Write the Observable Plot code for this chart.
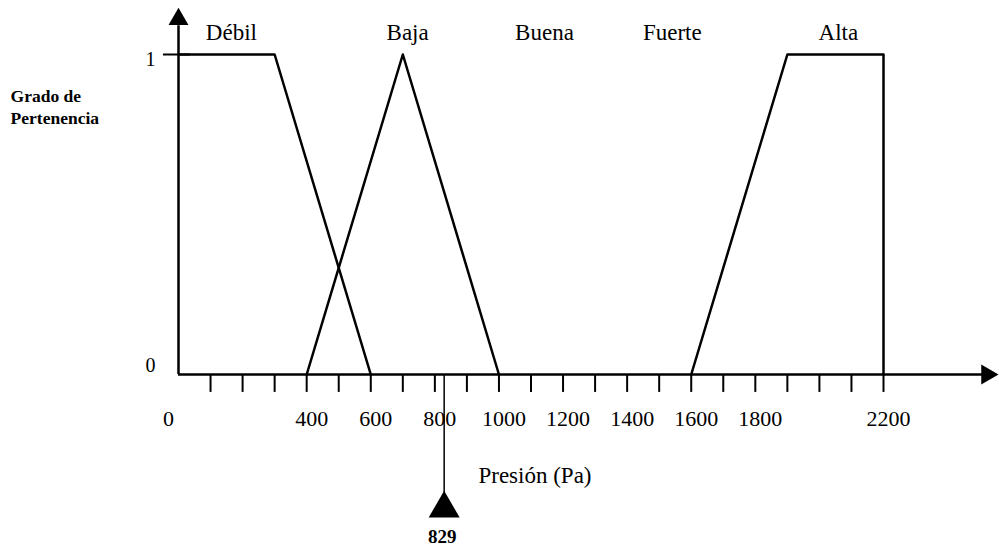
<!DOCTYPE html>
<html>
<head>
<meta charset="utf-8">
<script src="https://cdn.jsdelivr.net/npm/d3@7"></script>
<script src="https://cdn.jsdelivr.net/npm/@observablehq/plot@0.6"></script>
<style>
  html, body { margin: 0; padding: 0; background: #fff; }
  #chart svg { display: block; }
</style>
</head>
<body>
<div id="chart"></div>
<script>
// Membership functions (x = Presión in Pa, y = grado de pertenencia)
const debilX = [0, 300, 600];
const debilY = [1, 1, 0];
const bajaX = [400, 700, 1000];
const bajaY = [0, 1, 0];
const altaX = [1600, 1900, 2200, 2200];
const altaY = [0, 1, 1, 0];

// Set names and where they are written above the chart
const setNames = ["Débil", "Baja", "Buena", "Fuerte", "Alta"];
const setLabelX = [165, 715, 1142, 1541, 2059];

// Axis ticks and labels
const xTicks = [100, 200, 300, 400, 500, 600, 700, 800, 900, 1000, 1100, 1200, 1300, 1400, 1500, 1600, 1700, 1800, 1900, 2000, 2100, 2200];
const xTickLabels = [400, 600, 800, 1000, 1200, 1400, 1600, 1800, 2200];
const yTickLabels = [0, 1];

// Input value
const inputValue = 829;

const font = "'Liberation Serif', 'Times New Roman', serif";
const toRows = (xs, ys) => xs.map((x, i) => ({x, y: ys[i]}));

const xMax = 2523;   // end of the drawn x axis line
const yMax = 1.11;   // top of the drawn y axis

const chart = Plot.plot({
  width: 999,
  height: 550,
  marginTop: 0, marginRight: 0, marginBottom: 0, marginLeft: 0,
  x: {domain: [0, 2200], range: [178, 883], axis: null},
  y: {domain: [0, 1], range: [374, 54], axis: null},
  style: {fontFamily: font, background: "#fff", color: "#000"},
  marks: [
    // axes
    Plot.ruleY([0], {x1: 0, x2: xMax, stroke: "#000", strokeWidth: 2.5}),
    Plot.ruleX([0], {y1: 0, y2: yMax - 0.02, stroke: "#000", strokeWidth: 2.5}),
    Plot.dot([{x: xMax, y: 0}], {x: "x", y: "y", symbol: "triangle", r: 7.4, rotate: 90, fill: "#000", stroke: "none"}),
    Plot.dot([{x: 0, y: yMax}], {x: "x", y: "y", symbol: "triangle", r: 7.4, fill: "#000", stroke: "none"}),
    // x ticks
    Plot.ruleX(xTicks, {x: d => d, y1: 0, y2: -0.056, stroke: "#000", strokeWidth: 2}),
    // y tick at 1
    Plot.ruleY([1], {x1: -47, x2: 37, stroke: "#000", strokeWidth: 2}),
    // membership functions
    Plot.line(toRows(debilX, debilY), {x: "x", y: "y", stroke: "#000", strokeWidth: 2.5}),
    Plot.line(toRows(bajaX, bajaY), {x: "x", y: "y", stroke: "#000", strokeWidth: 2.5}),
    Plot.line(toRows(altaX, altaY), {x: "x", y: "y", stroke: "#000", strokeWidth: 2.5}),
    // set names
    Plot.text(setNames, {x: (d, i) => setLabelX[i], y: 1.069, text: d => d, fontSize: 23, fill: "#000"}),
    // x tick labels
    Plot.text([0], {x: d => d, y: -0.14, text: d => String(d), fontSize: 22, dx: -10, fill: "#000"}),
    Plot.text(xTickLabels, {x: d => d, y: -0.14, text: d => String(d), fontSize: 22, dx: 5, fill: "#000"}),
    // y tick labels
    Plot.text(yTickLabels, {x: -87, y: d => d === 1 ? 0.984 : 0.028, text: d => String(d), fontSize: 20, fill: "#000"}),
    // y axis title
    Plot.text(["Grado de", "Pertenencia"], {x: -524, y: (d, i) => i === 0 ? 0.87 : 0.80, text: d => d, textAnchor: "start", fontSize: 17.5, fontWeight: "bold", fill: "#000"}),
    // x axis title
    Plot.text(["Presión (Pa)"], {x: 936, y: -0.316, text: d => d, textAnchor: "start", fontSize: 23, fill: "#000"}),
    // input marker
    Plot.ruleX([inputValue], {x: d => d, y1: 0, y2: -0.37, stroke: "#000", strokeWidth: 1.5}),
    Plot.dot([inputValue], {x: d => d, y: -0.419, symbol: "triangle", r: 11.5, fill: "#000", stroke: "none"}),
    Plot.text([inputValue], {x: d => d, y: -0.509, text: d => String(d), fontSize: 19, fontWeight: "bold", dx: -2, fill: "#000"})
  ]
});

document.getElementById("chart").appendChild(chart);
</script>
</body>
</html>
